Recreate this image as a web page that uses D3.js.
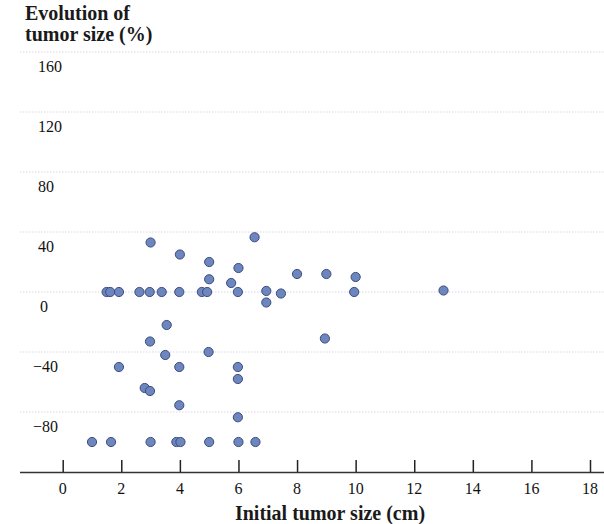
<!DOCTYPE html>
<html>
<head>
<meta charset="utf-8">
<script src="https://cdn.jsdelivr.net/npm/d3@7"></script>
<style>
  body { margin: 0; background: #fff; }
  svg { display: block; font-family: "Liberation Serif", "DejaVu Serif", serif; }
</style>
</head>
<body>
<svg width="604" height="524"></svg>
<script>
// initial tumor size (cm) / evolution of tumor size (%)
var sizeCm = [3, 4, 5, 6, 6.55, 5, 5.75, 8, 9, 10,
              1.5, 1.62, 1.92, 2.62, 2.97, 3.38, 3.98, 4.75, 4.93, 5.98, 6.95, 7.45, 9.95, 13,
              6.95, 3.55, 2.98, 8.95, 3.5, 4.98, 1.92, 3.98, 5.98, 5.98, 2.8, 2.98, 3.98, 5.98,
              1, 1.65, 3, 3.88, 4.02, 5, 6, 6.58];
var evolution = [33, 25, 20, 16, 36.5, 8.5, 6, 12, 12, 10,
                 0, 0, 0, 0, 0, 0, 0, 0, 0, 0, 0.7, -1, 0, 1,
                 -7, -22, -33, -31, -42, -40, -50, -50, -50, -58, -64, -66, -75.5, -83.5,
                 -100, -100, -100, -100, -100, -100, -100, -100];

var xTicks = [0, 2, 4, 6, 8, 10, 12, 14, 16, 18];
var yTicks = [160, 120, 80, 40, 0, -40, -80];

var svg = d3.select("svg");

var x = d3.scaleLinear().domain([0, 18]).range([62.7, 590]);
var y = d3.scaleLinear().domain([0, 160]).range([292, 52]);

// dotted gridlines
svg.append("g")
    .selectAll("line")
    .data(yTicks)
    .enter().append("line")
    .attr("x1", 20)
    .attr("x2", 604)
    .attr("y1", function(d) { return y(d); })
    .attr("y2", function(d) { return y(d); })
    .attr("stroke", "#ddd6e6")
    .attr("stroke-width", 1)
    .attr("stroke-dasharray", "1.5,1.5");

// y labels sit below their gridline
svg.append("g")
    .selectAll("text")
    .data(yTicks)
    .enter().append("text")
    .attr("x", function(d) { return d < 0 ? 33 : (d === 0 ? 40 : 38); })
    .attr("y", function(d) { return y(d) + 20; })
    .attr("font-size", 16)
    .attr("fill", "#111")
    .text(function(d) { return d < 0 ? "\u2212" + (-d) : d; });

// x axis
var xAxis = d3.axisTop(x)
    .tickValues(xTicks)
    .tickSize(12)
    .tickFormat("");

var gx = svg.append("g")
    .attr("transform", "translate(0,472)")
    .call(xAxis);
gx.select(".domain").remove();
gx.selectAll(".tick line").attr("stroke", "#222").attr("stroke-width", 1.5);

svg.append("line")
    .attr("x1", 20).attr("x2", 604)
    .attr("y1", 472.5).attr("y2", 472.5)
    .attr("stroke", "#333")
    .attr("stroke-width", 1.5);

svg.append("g")
    .selectAll("text")
    .data(xTicks)
    .enter().append("text")
    .attr("x", function(d) { return x(d); })
    .attr("y", 494)
    .attr("text-anchor", "middle")
    .attr("font-size", 16)
    .attr("fill", "#111")
    .text(function(d) { return d; });

// points
svg.append("g")
    .selectAll("circle")
    .data(sizeCm)
    .enter().append("circle")
    .attr("cx", function(d) { return x(d); })
    .attr("cy", function(d, i) { return y(evolution[i]); })
    .attr("r", 4.6)
    .attr("fill", "#6d86bd")
    .attr("stroke", "#3b4c80")
    .attr("stroke-width", 1);

// titles
svg.append("text")
    .attr("x", 25).attr("y", 20)
    .attr("font-size", 20).attr("font-weight", "bold").attr("fill", "#1a1a1a")
    .text("Evolution of");
svg.append("text")
    .attr("x", 25).attr("y", 41)
    .attr("font-size", 20).attr("font-weight", "bold").attr("fill", "#1a1a1a")
    .text("tumor size (%)");

svg.append("text")
    .attr("x", 330).attr("y", 520)
    .attr("text-anchor", "middle")
    .attr("font-size", 20).attr("font-weight", "bold").attr("fill", "#1a1a1a")
    .text("Initial tumor size (cm)");
</script>
</body>
</html>
